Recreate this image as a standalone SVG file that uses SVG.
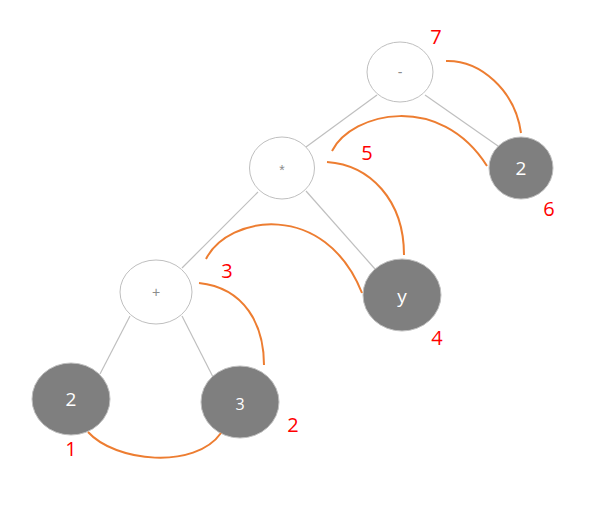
<svg xmlns="http://www.w3.org/2000/svg" width="589" height="526" viewBox="0 0 589 526">
<style>
.op ellipse{fill:#fff;stroke:#bfbfbf;stroke-width:1}
.op text{fill:#8c8c8c;font-family:"Liberation Sans",Arial,sans-serif;font-size:14px;text-anchor:middle;dominant-baseline:central}
.lf ellipse{fill:#7f7f7f;stroke:#bfbfbf;stroke-width:1}
.lf text{fill:#fff;font-family:"Open Sans","Liberation Sans",sans-serif;font-size:19px;text-anchor:middle;dominant-baseline:central}
.edge{stroke:#bfbfbf;stroke-width:1.2;fill:none}
.arc{stroke:#ed7d31;stroke-width:2;fill:none}
.num{fill:#ff0000;font-family:"Open Sans","Liberation Sans",sans-serif;font-size:20px;text-anchor:middle;dominant-baseline:central}
</style>
<rect width="589" height="526" fill="#fff"/>
<g id="connectors">
<line class="edge" x1="377" y1="95" x2="306" y2="147"/>
<line class="edge" x1="425" y1="95" x2="498" y2="146"/>
<line class="edge" x1="258" y1="192" x2="182" y2="268"/>
<line class="edge" x1="306" y1="191" x2="375" y2="269"/>
<line class="edge" x1="130" y1="316" x2="100" y2="374"/>
<line class="edge" x1="182" y1="316" x2="213" y2="377"/>
</g>
<g id="node-minus" class="op"><ellipse cx="400" cy="72" rx="33" ry="30"/><text x="400" y="72">-</text></g>
<g id="node-mul" class="op"><ellipse cx="282" cy="168" rx="32.5" ry="31"/><text x="282" y="170">*</text></g>
<g id="node-plus" class="op"><ellipse cx="156" cy="292" rx="36" ry="32"/><text x="156" y="292">+</text></g>
<g id="node-2r" class="lf"><ellipse cx="521" cy="168" rx="32" ry="31"/><text x="521" y="168">2</text></g>
<g id="node-y" class="lf"><ellipse cx="402" cy="295" rx="39" ry="36"/><text x="402" y="296">y</text></g>
<g id="node-2l" class="lf"><ellipse cx="71" cy="399" rx="39" ry="36"/><text x="71" y="399">2</text></g>
<g id="node-3" class="lf"><ellipse cx="240" cy="402" rx="39" ry="36"/><text x="240" y="404" style="font-size:16px">3</text></g>
<g id="traversal">
<path class="arc" d="M88,432 C115,462 195,470 221,433"/>
<path class="arc" d="M199,283 C245,288 264,325 264,365"/>
<path class="arc" d="M206,259 C228,215 325,200 362,293"/>
<path class="arc" d="M327,162 C370,165 404,200 404,255"/>
<path class="arc" d="M332,151 C352,112 440,92 487,166"/>
<path class="arc" d="M446,61 C480,60 515,90 521,133"/>
</g>
<g id="labels">
<text class="num" x="71" y="448">1</text>
<text class="num" x="293" y="424">2</text>
<text class="num" x="227" y="270">3</text>
<text class="num" x="437" y="337">4</text>
<text class="num" x="367" y="152">5</text>
<text class="num" x="549" y="208">6</text>
<text class="num" x="436" y="36">7</text>
</g>
</svg>
